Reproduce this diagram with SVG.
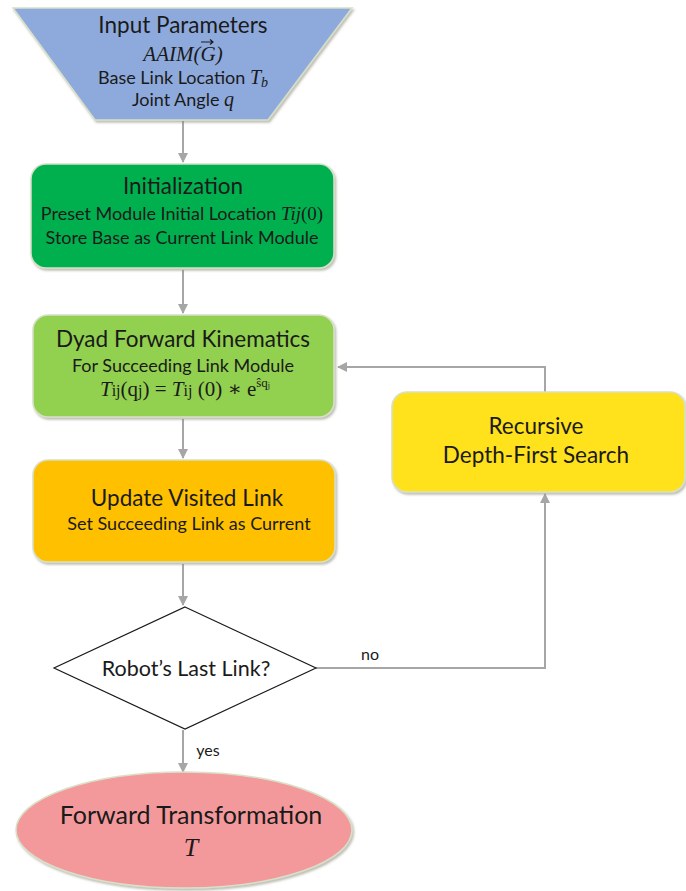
<svg xmlns="http://www.w3.org/2000/svg" width="686" height="891" viewBox="0 0 686 891">
  <style>
    .lbl { font-family: Lato, "Open Sans", "Liberation Sans", sans-serif; fill: #1a1a1a; text-anchor: middle; }
    .ttl { font-size: 22.5px; }
    .sub { font-size: 18px; }
    .math { font-family: "Liberation Serif", "DejaVu Serif", serif; font-style: italic; }
    .rm { font-family: "Liberation Serif", "DejaVu Serif", serif; font-style: normal; }
    .edge { fill: none; stroke: #a6a6a6; stroke-width: 2; }
    .shape { stroke: #d8e0c8; stroke-width: 1.5; }
  </style>
  <defs>
    <marker id="arr" viewBox="0 0 10 10" refX="9" refY="5" markerWidth="5" markerHeight="5" orient="auto">
      <path d="M0,0 L10,5 L0,10 z" fill="#a6a6a6"/>
    </marker>
    <filter id="sh" x="-5%" y="-5%" width="112%" height="115%">
      <feDropShadow dx="1.5" dy="2" stdDeviation="1.2" flood-color="#8a8a7a" flood-opacity="0.55"/>
    </filter>
  </defs>
  <rect width="686" height="891" fill="#ffffff"/>

  <g id="connectors">
    <line class="edge" x1="183" y1="121" x2="183" y2="162" marker-end="url(#arr)"/>
    <line class="edge" x1="183" y1="270" x2="183" y2="313" marker-end="url(#arr)"/>
    <line class="edge" x1="183" y1="419" x2="183" y2="458" marker-end="url(#arr)"/>
    <line class="edge" x1="183" y1="564" x2="183" y2="605" marker-end="url(#arr)"/>
    <line class="edge" x1="183" y1="730" x2="183" y2="772" marker-end="url(#arr)"/>
    <polyline class="edge" points="316,668 545,668 545,494" marker-end="url(#arr)"/>
    <polyline class="edge" points="545,392 545,367 338,367" marker-end="url(#arr)"/>
    <text class="lbl" x="370" y="660" style="font-size:16px">no</text>
    <text class="lbl" x="208" y="756" style="font-size:16px">yes</text>
  </g>

  <g id="input">
    <polygon points="13,8 352,8 268,120 95,120" fill="#8eaadc" class="shape" filter="url(#sh)"/>
    <text class="lbl ttl" x="183" y="33">Input Parameters</text>
    <text class="lbl math" x="183" y="61" style="font-size:21px">AAIM(G)</text>
    <!-- vector arrow over G -->
    <path d="M201,42 L213,42 M210,39.5 L213,42 L210,44.5" stroke="#1a1a1a" stroke-width="1.2" fill="none"/>
    <text class="lbl sub" x="183" y="84">Base Link Location <tspan class="math" style="font-size:20px">T<tspan style="font-size:14px" dy="3">b</tspan></tspan></text>
    <text class="lbl sub" x="183" y="106">Joint Angle <tspan class="math" style="font-size:20px">q</tspan></text>
  </g>

  <g id="initialization">
    <rect x="31" y="164" width="303" height="104" rx="15" fill="#00b050" class="shape" filter="url(#sh)"/>
    <text class="lbl ttl" x="183" y="194">Initialization</text>
    <text class="lbl sub" x="182" y="220">Preset Module Initial Location <tspan class="math" style="font-size:19px">Tij</tspan><tspan class="rm" style="font-size:19px">(0)</tspan></text>
    <text class="lbl sub" x="182" y="244">Store Base as Current Link Module</text>
  </g>

  <g id="dyad">
    <rect x="33" y="315" width="301" height="102" rx="15" fill="#92d050" class="shape" filter="url(#sh)"/>
    <text class="lbl ttl" x="183" y="347">Dyad Forward Kinematics</text>
    <text class="lbl sub" x="183" y="372">For Succeeding Link Module</text>
    <text class="lbl rm" x="185" y="396" style="font-size:21px"><tspan class="math">T</tspan><tspan style="font-size:16px">ij</tspan>(q<tspan style="font-size:16px">j</tspan>) = <tspan class="math">T</tspan><tspan style="font-size:16px">ij</tspan> (0) ∗ e<tspan style="font-size:13px" dy="-9">ŝq</tspan><tspan style="font-size:8px" dy="1">j</tspan></text>
  </g>

  <g id="update">
    <rect x="33" y="460" width="302" height="102" rx="15" fill="#ffc000" class="shape" filter="url(#sh)"/>
    <text class="lbl ttl" x="187" y="506">Update Visited Link</text>
    <text class="lbl sub" x="189" y="530">Set Succeeding Link as Current</text>
  </g>

  <g id="recursive">
    <rect x="392" y="392" width="293" height="100" rx="15" fill="#ffe11f" class="shape" filter="url(#sh)"/>
    <text class="lbl ttl" x="536" y="434">Recursive</text>
    <text class="lbl ttl" x="536" y="463">Depth-First Search</text>
  </g>

  <g id="decision">
    <polygon points="185,607 316,668 185,729 54,668" fill="#ffffff" stroke="#1a1a1a" stroke-width="1.2"/>
    <text class="lbl" x="186" y="676" style="font-size:21.5px">Robot’s Last Link?</text>
  </g>

  <g id="output">
    <ellipse cx="184" cy="830" rx="168" ry="58" fill="#f4999b" class="shape" filter="url(#sh)"/>
    <text class="lbl" x="191" y="824" style="font-size:25px">Forward Transformation</text>
    <text class="lbl math" x="191" y="856" style="font-size:26px">T</text>
  </g>
</svg>
